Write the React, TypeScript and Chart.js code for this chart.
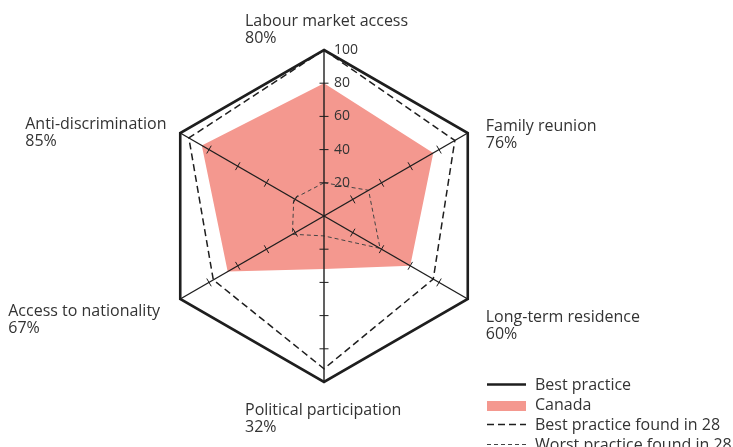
import React, { useEffect, useRef } from "react";
import { Chart, registerables } from "chart.js";

Chart.register(...registerables);

const categories = [
  "Labour market access",
  "Family reunion",
  "Long-term residence",
  "Political participation",
  "Access to nationality",
  "Anti-discrimination",
];
const bestPractice = [100, 100, 100, 100, 100, 100];
const canada = [80, 76, 60, 32, 67, 85];
const bestFound = [100, 91, 76, 92, 77, 94];
const worstFound = [20, 31, 39, 12, 22, 21];
const tickValues = [20, 40, 60, 80, 100];
const seriesNames = [
  "Best practice",
  "Canada",
  "Best practice found in 28",
  "Worst practice found in 28",
];

// label block offsets (left edge, first-line baseline) relative to each axis end
const labelOffsets: [number, number][] = [
  [-79, -24],
  [18, -2],
  [18, 23],
  [-79, 33],
  [-172, 17],
  [-155, -4],
];

const FONT = "'Open Sans', 'DejaVu Sans', sans-serif";
const TEXT = "#333333";
const INK = "#1e1e1e";
const PINK = "rgb(244,152,143)";

const overlay = {
  id: "overlay",
  afterDatasetsDraw(chart: any) {
    const ctx = chart.ctx as CanvasRenderingContext2D;
    const scale = chart.scales.r;
    const n = categories.length;
    ctx.save();
    // spokes
    ctx.strokeStyle = INK;
    ctx.lineWidth = 1.4;
    const outer = scale.getDistanceFromCenterForValue(100);
    for (let i = 0; i < n; i++) {
      const p = scale.getPointPosition(i, outer);
      ctx.beginPath();
      ctx.moveTo(scale.xCenter, scale.yCenter);
      ctx.lineTo(p.x, p.y);
      ctx.stroke();
    }
    ctx.restore();
  },
  afterDraw(chart: any) {
    const ctx = chart.ctx as CanvasRenderingContext2D;
    const scale = chart.scales.r;
    const n = categories.length;
    ctx.save();
    // tick marks on spokes
    ctx.strokeStyle = INK;
    ctx.lineWidth = 1;
    for (let i = 0; i < n; i++) {
      const ang = scale.getIndexAngle(i) - Math.PI / 2;
      const px = -Math.sin(ang);
      const py = Math.cos(ang);
      for (const v of tickValues) {
        if (v >= 100) continue;
        const d = scale.getDistanceFromCenterForValue(v);
        const p = scale.getPointPosition(i, d);
        ctx.beginPath();
        ctx.moveTo(p.x - px * 4.5, p.y - py * 4.5);
        ctx.lineTo(p.x + px * 4.5, p.y + py * 4.5);
        ctx.stroke();
      }
    }
    // tick labels
    ctx.fillStyle = TEXT;
    ctx.font = `14px ${FONT}`;
    ctx.textAlign = "left";
    ctx.textBaseline = "middle";
    for (const v of tickValues) {
      const d = scale.getDistanceFromCenterForValue(v);
      ctx.fillText(String(v), scale.xCenter + 10, scale.yCenter - d);
    }
    // point labels
    ctx.font = `16px ${FONT}`;
    ctx.textBaseline = "alphabetic";
    for (let i = 0; i < n; i++) {
      const p = scale.getPointPosition(i, scale.drawingArea);
      const [dx, dy] = labelOffsets[i];
      ctx.fillText(categories[i], p.x + dx, p.y + dy);
      ctx.fillText(`${canada[i]}%`, p.x + dx, p.y + dy + 17);
    }
    // legend
    const x0 = 487;
    const x1 = 526;
    const tx = 535;
    const rows = [390, 410, 430, 450];
    const ds = chart.data.datasets;
    for (let k = 0; k < rows.length; k++) {
      const y = rows[k];
      const d = ds[k];
      if (k === 1) {
        ctx.fillStyle = d.backgroundColor;
        ctx.fillRect(x0, y - 9, x1 - x0, 10);
      } else {
        ctx.strokeStyle = d.borderColor;
        ctx.lineWidth = d.borderWidth;
        ctx.setLineDash(d.borderDash || []);
        ctx.beginPath();
        ctx.moveTo(x0, y - 5.5);
        ctx.lineTo(x1, y - 5.5);
        ctx.stroke();
        ctx.setLineDash([]);
      }
      ctx.fillStyle = TEXT;
      ctx.fillText(seriesNames[k], tx, y);
    }
    ctx.restore();
  },
};

export default function App() {
  const ref = useRef<HTMLCanvasElement>(null);
  useEffect(() => {
    if (!ref.current) return;
    const chart = new Chart(ref.current, {
      type: "radar",
      data: {
        labels: categories,
        datasets: [
          {
            label: seriesNames[0],
            data: bestPractice,
            borderColor: INK,
            borderWidth: 2.6,
            backgroundColor: "transparent",
            fill: false,
            pointRadius: 0,
            order: 0,
          },
          {
            label: seriesNames[1],
            data: canada,
            borderColor: PINK,
            borderWidth: 0,
            backgroundColor: PINK,
            fill: true,
            pointRadius: 0,
            order: 5,
          },
          {
            label: seriesNames[2],
            data: bestFound,
            borderColor: INK,
            borderWidth: 1.5,
            borderDash: [7, 4],
            backgroundColor: "transparent",
            fill: false,
            pointRadius: 0,
            order: 1,
          },
          {
            label: seriesNames[3],
            data: worstFound,
            borderColor: "#444444",
            borderWidth: 1,
            borderDash: [4, 3],
            backgroundColor: "transparent",
            fill: false,
            pointRadius: 0,
            order: 2,
          },
        ],
      },
      options: {
        responsive: false,
        animation: false,
        devicePixelRatio: 1,
        layout: { padding: { left: 158, right: 242, top: 50, bottom: 64 } },
        elements: { line: { tension: 0 } },
        plugins: { legend: { display: false }, tooltip: { enabled: false } },
        scales: {
          r: {
            min: 0,
            max: 100,
            ticks: { display: false, stepSize: 20 },
            grid: { display: false },
            angleLines: { display: false },
            pointLabels: { display: false },
          },
        },
      },
      plugins: [overlay],
    } as any);
    return () => chart.destroy();
  }, []);
  return (
    <div style={{ position: "absolute", left: 0, top: 0, width: 733, height: 447, background: "#fff" }}>
      <canvas ref={ref} width={733} height={447} />
    </div>
  );
}
